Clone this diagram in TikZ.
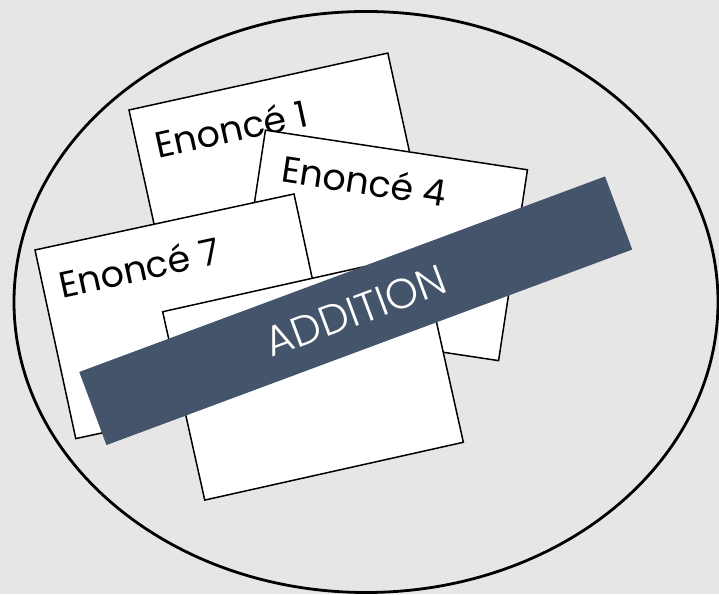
\documentclass[tikz,border=0pt]{standalone}
\usepackage{fontspec}
\setmainfont{Poppins}
\newfontfamily\bandfont{Poppins Light}
\usepackage{xcolor}
\definecolor{BackGray}{HTML}{E6E6E6}
\definecolor{BandSlate}{HTML}{44546A}
\usepackage{tikz}
\usetikzlibrary{positioning,shapes.geometric}

\tikzset{
  sheet/.style={draw=black, fill=white, line width=1.5pt, inner sep=0pt,
    minimum width=265pt, minimum height=193pt},
  enonce/.style={font=\fontsize{36.5}{40}\selectfont, anchor=base west, inner sep=0pt},
  band/.style={fill=BandSlate, text=white, inner sep=0pt,
    minimum width=561pt, minimum height=78pt, font=\bandfont\fontsize{42}{46}\selectfont},
}

\begin{document}
\begin{tikzpicture}[x=1pt,y=1pt]
  \fill[BackGray] (0,0) rectangle (719,594);
  \useasboundingbox (0,0) rectangle (719,594);

  % the set
  \node[draw=black, ellipse, line width=2.8pt, minimum width=704pt, minimum height=581pt,
    inner sep=0pt] (set) at (366,292) {};

  % sheets, back to front
  \begin{scope}[shift={(279.1,418.2)}, rotate=12.4, transform shape]
    \node[sheet] (sheetA) {};
    \node[enonce] (textA) at (-114.5,42.5) {Enoncé 1};
  \end{scope}
  \begin{scope}[shift={(382,348.6)}, rotate=-8.6, transform shape]
    \node[sheet] (sheetD) {};
    \node[enonce] (textD) at (-110.4,47.6) {Enoncé 4};
  \end{scope}
  \begin{scope}[shift={(184.9,277.7)}, rotate=12.2, transform shape]
    \node[sheet] (sheetG) {};
    \node[enonce] (textG) at (-116.3,43.7) {Enoncé 7};
  \end{scope}
  \node[sheet, rotate=12.6] (sheetX) at (313,217) {};

  % label across the pile
  \node[band, rotate=20.4] (addition) at (355.75,283.25) {ADDITION};
\end{tikzpicture}
\end{document}
